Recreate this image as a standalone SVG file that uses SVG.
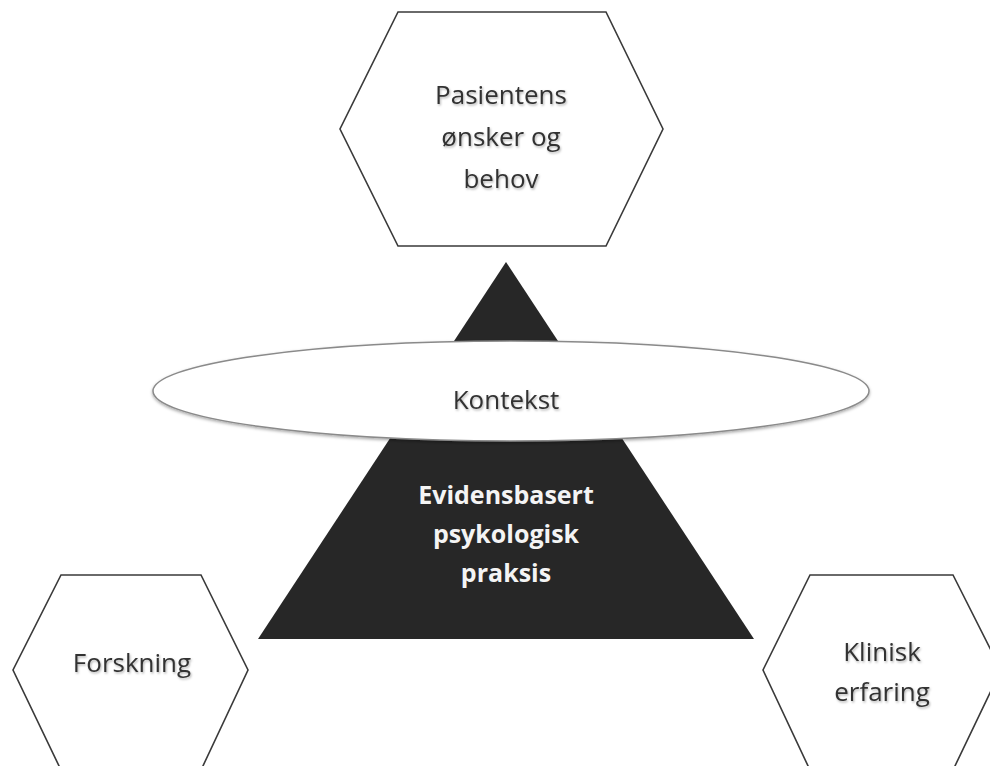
<svg xmlns="http://www.w3.org/2000/svg" width="990" height="766" viewBox="0 0 990 766">
<defs>
<filter id="ts" x="-10%" y="-30%" width="120%" height="160%">
<feDropShadow dx="1" dy="1.5" stdDeviation="1" flood-color="#000" flood-opacity="0.3"/>
</filter>
<filter id="es" x="-5%" y="-20%" width="110%" height="140%">
<feDropShadow dx="0" dy="1.5" stdDeviation="1.5" flood-color="#000" flood-opacity="0.35"/>
</filter>
</defs>
<style>
.hex{fill:#ffffff;stroke:#3a3a3a;stroke-width:1.6}
.lbl{font-family:"Open Sans","Liberation Sans",sans-serif;font-size:26px;fill:#333333;text-anchor:middle;filter:url(#ts)}
.wl{font-family:"Open Sans","Liberation Sans",sans-serif;font-size:25px;font-weight:bold;fill:#f4f4f4;text-anchor:middle}
</style>
<rect width="990" height="766" fill="#ffffff"/>
<g id="connectors"></g>
<g id="pyramide">
<polygon points="506,262 258,639 754,639" fill="#272727"/>
<text class="wl" x="506" y="504">Evidensbasert</text>
<text class="wl" x="506" y="543">psykologisk</text>
<text class="wl" x="506" y="582">praksis</text>
</g>
<g id="kontekst">
<ellipse cx="511" cy="391" rx="358" ry="50" fill="#ffffff" stroke="#8a8a8a" stroke-width="1.5" filter="url(#es)"/>
<text class="lbl" x="506" y="409">Kontekst</text>
</g>
<g id="pasientens">
<polygon class="hex" points="398,12 606,12 663,129 606,246 398,246 340,129"/>
<text class="lbl" x="501" y="104">Pasientens</text>
<text class="lbl" x="501" y="146">ønsker og</text>
<text class="lbl" x="501" y="188">behov</text>
</g>
<g id="forskning">
<polygon class="hex" points="61,575 201,575 248,670 202,768 60,768 13,670"/>
<text class="lbl" x="132" y="672">Forskning</text>
</g>
<g id="klinisk">
<polygon class="hex" points="810,575 953,575 1001,670 954,768 809,768 763,670"/>
<text class="lbl" x="882" y="661">Klinisk</text>
<text class="lbl" x="882" y="701">erfaring</text>
</g>
</svg>
